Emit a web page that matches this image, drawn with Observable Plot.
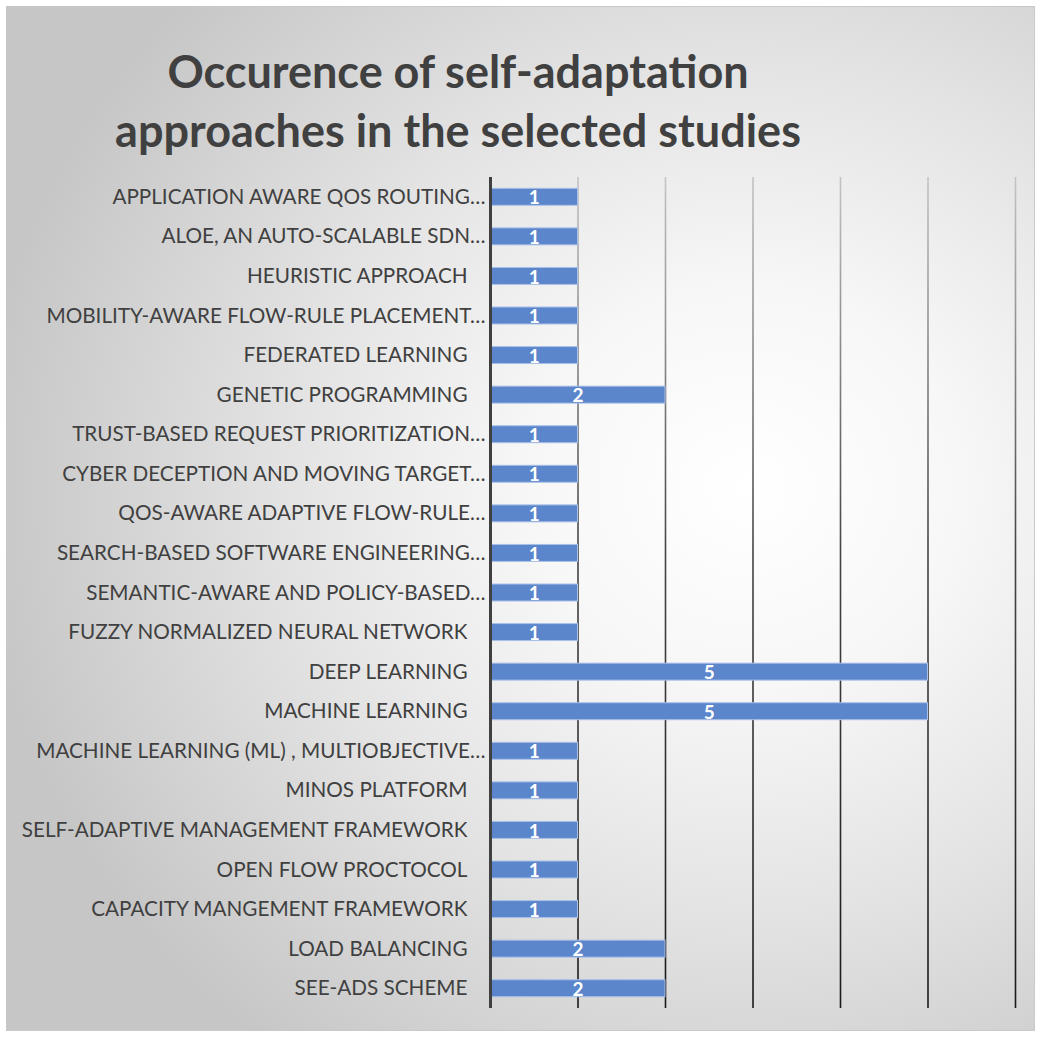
<!DOCTYPE html>
<html>
<head>
<meta charset="utf-8">
<script src="https://cdn.jsdelivr.net/npm/d3@7"></script>
<script src="https://cdn.jsdelivr.net/npm/@observablehq/plot@0.6"></script>
<style>
  html, body { margin: 0; padding: 0; background: #ffffff; }
  #wrap { position: relative; width: 1039px; height: 1037px; overflow: hidden; }
  #frame {
    position: absolute; left: 6px; top: 6px; width: 1029px; height: 1025px;
    border: 1px solid #c9c9c9; box-sizing: border-box;
    background: radial-gradient(ellipse 75% 70% at 72% 47%, #ffffff 0%, #f7f7f7 28%, #e3e3e3 60%, #c6c6c6 100%);
  }
  #title {
    position: absolute; left: 58px; width: 800px; top: 42px;
    text-align: center; font-family: Lato, "Open Sans", sans-serif; font-weight: 700;
    font-size: 45px; line-height: 59px; color: #404040;
  }
  #chart { position: absolute; left: 0; top: 0; }
</style>
</head>
<body>
<div id="wrap">
  <div id="frame"></div>
  <div id="title">Occurence of self-adaptation<br>approaches in the selected studies</div>
  <div id="chart"></div>
</div>
<script>
const categories = [
  "APPLICATION AWARE QOS ROUTING…",
  "ALOE, AN AUTO-SCALABLE SDN…",
  "HEURISTIC APPROACH",
  "MOBILITY-AWARE FLOW-RULE PLACEMENT…",
  "FEDERATED LEARNING",
  "GENETIC PROGRAMMING",
  "TRUST-BASED REQUEST PRIORITIZATION…",
  "CYBER DECEPTION AND MOVING TARGET…",
  "QOS-AWARE ADAPTIVE FLOW-RULE…",
  "SEARCH-BASED SOFTWARE ENGINEERING…",
  "SEMANTIC-AWARE AND POLICY-BASED…",
  "FUZZY NORMALIZED NEURAL NETWORK",
  "DEEP LEARNING",
  "MACHINE LEARNING",
  "MACHINE LEARNING (ML) , MULTIOBJECTIVE…",
  "MINOS PLATFORM",
  "SELF-ADAPTIVE MANAGEMENT FRAMEWORK",
  "OPEN FLOW PROCTOCOL",
  "CAPACITY MANGEMENT FRAMEWORK",
  "LOAD BALANCING",
  "SEE-ADS SCHEME"
];
const counts = [1, 1, 1, 1, 1, 2, 1, 1, 1, 1, 1, 1, 5, 5, 1, 1, 1, 1, 1, 2, 2];
const xTicks = [0, 1, 2, 3, 4, 5, 6];

const data = categories.map((c, i) => ({label: c, value: counts[i]}));
const truncated = data.filter(d => d.label.endsWith("…"));
const full = data.filter(d => !d.label.endsWith("…"));

const font = "Lato, 'Open Sans', sans-serif";
const chart = Plot.plot({
  width: 1039,
  height: 1037,
  marginLeft: 490,
  marginRight: 24,
  marginTop: 177,
  marginBottom: 29,
  style: {background: "transparent", fontFamily: font},
  x: {domain: [0, 6], axis: null},
  y: {domain: categories, padding: 0, round: false, axis: null},
  marks: [
    () => {
      const ns = "http://www.w3.org/2000/svg";
      const defs = document.createElementNS(ns, "defs");
      defs.innerHTML = `<linearGradient id="gridgrad" gradientUnits="userSpaceOnUse" x1="0" y1="177" x2="0" y2="1008">
        <stop offset="0" stop-color="#c4c4c4"/><stop offset="0.45" stop-color="#444"/><stop offset="1" stop-color="#1a1a1a"/></linearGradient>`;
      return defs;
    },
    Plot.ruleX(xTicks.slice(1), {stroke: "url(#gridgrad)", strokeWidth: 1.6}),
    Plot.barX(data, {
      x: "value", y: "label", fill: "#5b86cc", stroke: "#a9c0e8", strokeWidth: 1,
      insetTop: 11.3, insetBottom: 11.3
    }),
    Plot.ruleX([0], {stroke: "#404040", strokeWidth: 3}),
    Plot.text(data, {
      x: d => d.value / 2, y: "label", text: d => String(d.value),
      fill: "white", fontWeight: "bold", fontSize: 19, fontFamily: font, dy: 1
    }),
    Plot.text(full, {
      x: 0, y: "label", text: "label", textAnchor: "end", dx: -23,
      fill: "#404040", fontSize: 20.7, fontFamily: font
    }),
    Plot.text(truncated, {
      x: 0, y: "label", text: "label", textAnchor: "end", dx: -5,
      fill: "#404040", fontSize: 20.7, fontFamily: font
    })
  ]
});
document.getElementById("chart").appendChild(chart);
</script>
</body>
</html>
